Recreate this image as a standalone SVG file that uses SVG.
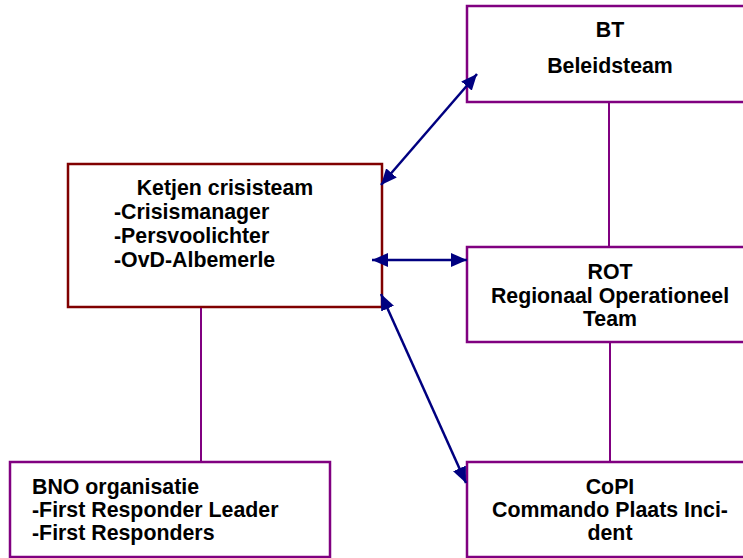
<svg xmlns="http://www.w3.org/2000/svg" width="743" height="558" viewBox="0 0 743 558">
<defs>
<style>
.box{fill:#fff;stroke:#800080;stroke-width:2.5}
.kbox{fill:#fff;stroke:#800000;stroke-width:2.5}
.t{font-family:"Liberation Sans",Arial,sans-serif;font-weight:bold;font-size:21.33px;fill:#000}
.c{text-anchor:middle}
.ln{stroke:#800080;stroke-width:2;fill:none}
.ar{stroke:#000080;stroke-width:2.5;fill:none;marker-start:url(#ah);marker-end:url(#ah)}
</style>
<marker id="ah" markerUnits="userSpaceOnUse" markerWidth="16" markerHeight="14" refX="16" refY="7" orient="auto-start-reverse" viewBox="0 0 16 14">
<path d="M0,0 L16,7 L0,14 z" fill="#000080"/>
</marker>
</defs>
<rect width="743" height="558" fill="#fff"/>
<g id="bt">
<rect class="box" x="467" y="6" width="286" height="96"/>
<text class="t c" x="610" y="37">BT</text>
<text class="t c" x="610" y="73">Beleidsteam</text>
</g>
<g id="ketjen">
<rect class="kbox" x="68" y="164" width="314" height="143"/>
<text class="t c" x="225" y="195">Ketjen crisisteam</text>
<text class="t" x="114" y="219">-Crisismanager</text>
<text class="t" x="114" y="243">-Persvoolichter</text>
<text class="t" x="114" y="267">-OvD-Albemerle</text>
</g>
<g id="rot">
<rect class="box" x="467" y="247" width="286" height="95"/>
<text class="t c" x="610" y="279">ROT</text>
<text class="t c" x="610" y="303">Regionaal Operationeel</text>
<text class="t c" x="610" y="326">Team</text>
</g>
<g id="bno">
<rect class="box" x="10" y="462" width="320" height="95"/>
<text class="t" x="32" y="494">BNO organisatie</text>
<text class="t" x="32" y="517">-First Responder Leader</text>
<text class="t" x="32" y="540">-First Responders</text>
</g>
<g id="copi">
<rect class="box" x="467" y="462" width="286" height="95"/>
<text class="t c" x="610" y="494">CoPI</text>
<text class="t c" x="610" y="517">Commando Plaats Inci-</text>
<text class="t c" x="610" y="540">dent</text>
</g>
<g id="connectors">
<line class="ln" x1="609" y1="103" x2="609" y2="246"/>
<line class="ln" x1="610" y1="343" x2="610" y2="461"/>
<line class="ln" x1="201" y1="308" x2="201" y2="461"/>
<line class="ar" x1="381" y1="185" x2="477" y2="74"/>
<line class="ar" x1="372" y1="260" x2="467" y2="260"/>
<line class="ar" x1="381" y1="294" x2="466" y2="483"/>
</g>
</svg>
